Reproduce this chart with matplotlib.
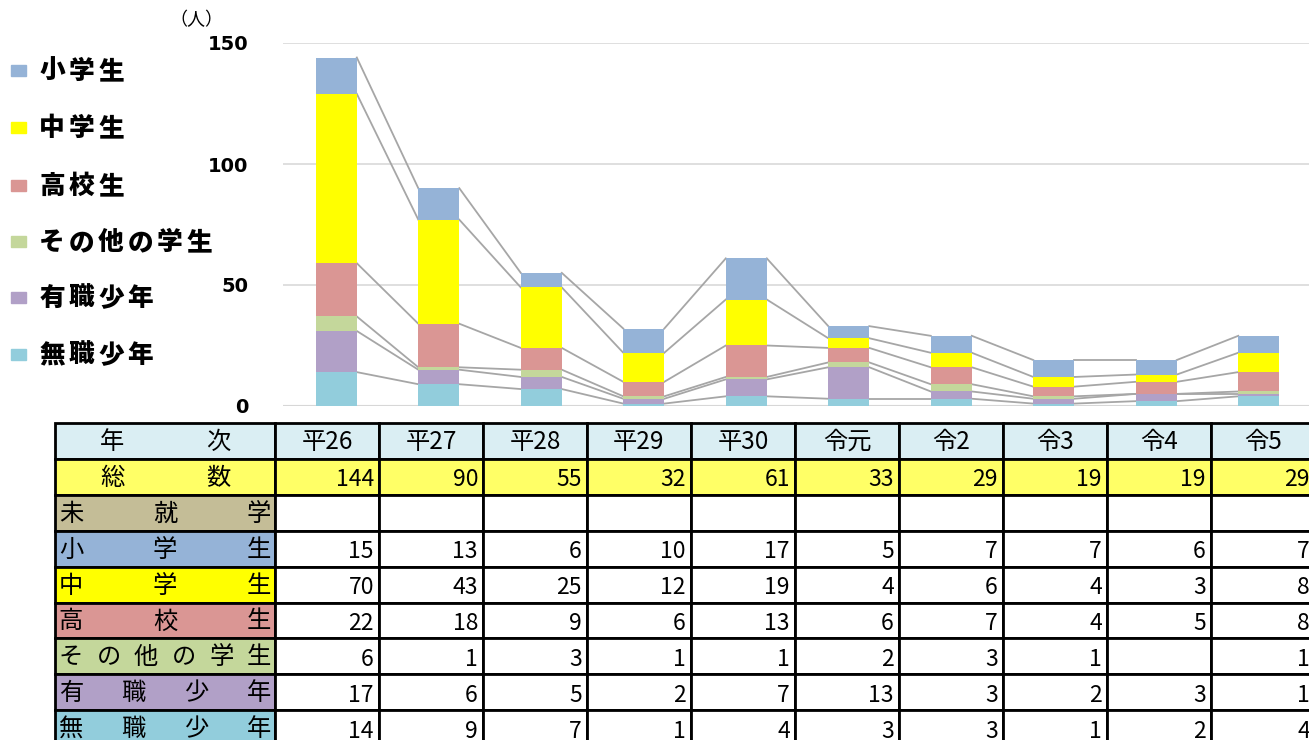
import matplotlib
matplotlib.use('Agg')
import matplotlib.pyplot as plt
from matplotlib.patches import Rectangle
import numpy as np

plt.rcParams['font.family'] = ['Noto Sans CJK JP', 'DejaVu Sans']

years = ['平26', '平27', '平28', '平29', '平30', '令元', '令2', '令3', '令4', '令5']
totals = [144, 90, 55, 32, 61, 33, 29, 19, 19, 29]
preschool = [None] * 10
elementary = [15, 13, 6, 10, 17, 5, 7, 7, 6, 7]
junior_high = [70, 43, 25, 12, 19, 4, 6, 4, 3, 8]
high_school = [22, 18, 9, 6, 13, 6, 7, 4, 5, 8]
other_students = [6, 1, 3, 1, 1, 2, 3, 1, None, 1]
employed = [17, 6, 5, 2, 7, 13, 3, 2, 3, 1]
unemployed = [14, 9, 7, 1, 4, 3, 3, 1, 2, 4]

yticks = [0, 50, 100, 150]

# stack order, bottom to top
stack = [
    ('無職少年', unemployed, '#92CDDC'),
    ('有職少年', employed, '#B1A0C7'),
    ('その他の学生', other_students, '#C4D79B'),
    ('高校生', high_school, '#DA9694'),
    ('中学生', junior_high, '#FFFF00'),
    ('小学生', elementary, '#95B3D7'),
    ('未就学', preschool, '#C4BD97'),
]

W, H = 1309, 740
fig = plt.figure(figsize=(W / 100, H / 100), dpi=100)

# overlay in pixel coords for legend + table
ov = fig.add_axes([0, 0, 1, 1], zorder=0)
ov.set_xlim(0, W)
ov.set_ylim(H, 0)
ov.axis('off')

# chart axes
ax = fig.add_axes([283 / W, 1 - 406 / H, (W - 283) / W, (406 - 43) / H], zorder=2)
ax.patch.set_alpha(0)
x = np.arange(len(years))
bw = 0.4
bottom = np.zeros(len(years))
tops = []
for name, vals, col in stack:
    v = np.array([0 if a is None else a for a in vals], dtype=float)
    ax.bar(x, v, bw, bottom=bottom, color=col, linewidth=0, zorder=3)
    bottom = bottom + v
    tops.append(bottom.copy())

# series lines between bars
for t in tops[:-1]:
    for i in range(len(years) - 1):
        ax.plot([x[i] + bw / 2, x[i + 1] - bw / 2], [t[i], t[i + 1]],
                color='#A6A6A6', lw=1.3, zorder=2)

ax.set_xlim(-0.52, 9.49)
ax.set_ylim(0, 150)
ax.set_yticks(yticks)
ax.set_yticklabels([str(t) for t in yticks], fontsize=14, fontweight='bold',
                   family='DejaVu Sans')
ax.tick_params(axis='y', length=0, pad=25)
ax.set_xticks([])
ax.grid(axis='y', color='#D9D9D9', lw=1.2, zorder=0)
for s in ax.spines.values():
    s.set_visible(False)
ax.axhline(0, color='#D0D0D0', lw=1.5, zorder=1)

ov.text(196, 20, '（人）', fontsize=13, ha='center', va='center')

# legend, left side (top of stack first)
leg_y = [70, 127, 185, 241, 297, 354]
for (name, vals, col), yy in zip(stack[:6][::-1], leg_y):
    ov.add_patch(Rectangle((11, yy - 5.5), 15, 11, color=col))
    for k, ch in enumerate(name):
        ov.text(38 + 14 + 29.5 * k, yy + 1, ch, fontsize=18.5, fontweight='heavy',
                ha='center', va='center')

# table
row_names = ['年次', '総数', '未就学', '小学生', '中学生', '高校生', 'その他の学生', '有職少年', '無職少年']
row_cols = ['#DAEEF3', '#FFFF66', '#C4BD97', '#95B3D7', '#FFFF00', '#DA9694',
            '#C4D79B', '#B1A0C7', '#92CDDC']
row_vals = [years, totals, preschool, elementary, junior_high, high_school,
            other_students, employed, unemployed]
x0, x1 = 55, 275
cw = 104
y0, rh = 423, 35.9
for r, (nm, rc, vals) in enumerate(zip(row_names, row_cols, row_vals)):
    ty = y0 + rh * r
    cy = ty + rh / 2 + 1
    ov.add_patch(Rectangle((x0, ty), x1 - x0, rh, facecolor=rc, edgecolor='black', lw=2))
    pad = 45 if r < 2 else 4
    a, b = x0 + pad + 12, x1 - pad - 12
    n = len(nm)
    for k, ch in enumerate(nm):
        ov.text(a + (b - a) * k / (n - 1), cy, ch, fontsize=17.5, ha='center', va='center')
    fc = '#DAEEF3' if r == 0 else ('#FFFF66' if r == 1 else 'white')
    for c, v in enumerate(vals):
        cx = x1 + cw * c
        ov.add_patch(Rectangle((cx, ty), cw, rh, facecolor=fc, edgecolor='black', lw=2))
        if v is None:
            continue
        if r == 0:
            ov.text(cx + cw / 2, cy, v, fontsize=17.5, ha='center', va='center')
        else:
            ov.text(cx + cw - 5, cy + 2, str(v), fontsize=16.5, ha='right', va='center')

fig.savefig('out.png', dpi=100)
